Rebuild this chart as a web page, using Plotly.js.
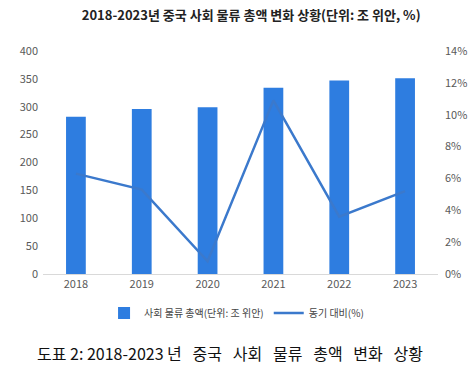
<!DOCTYPE html>
<html>
<head>
<meta charset="utf-8">
<script src="https://cdn.plot.ly/plotly-3.0.1.min.js"></script>
<style>
html,body{margin:0;padding:0;background:#fff;}
#chart{width:476px;height:367px;}
</style>
</head>
<body>
<div id="chart"></div>
<script>
const years = ['2018', '2019', '2020', '2021', '2022', '2023'];
const totalLogistics = [282, 296, 299, 334, 347, 351];
const yoyGrowth = [0.063, 0.053, 0.008, 0.109, 0.036, 0.052];
const barName = '사회 물류 총액(단위: 조 위안)';
const lineName = '동기 대비(%)';
const chartTitle = '2018-2023년 중국 사회 물류 총액 변화 상황(단위: 조 위안, %)';
const caption = '도표 2: 2018-2023 년   중국   사회   물류   총액   변화   상황';

const font = '"Noto Sans CJK KR", "Noto Sans", sans-serif';

const traces = [
  {
    type: 'bar', x: years, y: totalLogistics, name: barName,
    marker: {color: '#2E7DE0'}, yaxis: 'y', hoverinfo: 'skip'
  },
  {
    type: 'scatter', mode: 'lines', x: years, y: yoyGrowth, name: lineName,
    line: {color: '#3B79CC', width: 2.5}, yaxis: 'y2', hoverinfo: 'skip'
  }
];

const layout = {
  width: 476, height: 367,
  margin: {l: 43, r: 38, t: 51, b: 93},
  paper_bgcolor: '#fff', plot_bgcolor: '#fff',
  font: {family: font, color: '#595959', size: 11},
  bargap: 0.7,
  showlegend: true,
  title: {
    text: chartTitle, x: 0.527, xanchor: 'center', xref: 'paper',
    y: 1 - 15/367, yref: 'container', yanchor: 'middle',
    font: {family: font, size: 13, color: '#222', weight: 600}
  },
  xaxis: {
    type: 'category', showgrid: false, showline: true, linecolor: '#d9d9d9', linewidth: 1,
    ticks: '', tickfont: {size: 11, color: '#595959'}, fixedrange: true
  },
  yaxis: {
    range: [0, 400], dtick: 50, showgrid: false, zeroline: false, showline: false,
    ticks: '', tickfont: {size: 11, color: '#595959'}, ticklabelstandoff: 4
  },
  yaxis2: {
    overlaying: 'y', side: 'right', range: [0, 0.14], dtick: 0.02, tickformat: '.0%',
    showgrid: false, zeroline: false, showline: false, ticks: '',
    tickfont: {size: 11, color: '#595959'}, ticklabelstandoff: 6
  },
  legend: {
    orientation: 'h', x: 0.49, xanchor: 'center', y: -0.175, yanchor: 'middle',
    font: {size: 10, color: '#444'}, itemwidth: 30, traceorder: 'normal'
  },
  annotations: [{
    text: caption, xref: 'paper', yref: 'paper', x: 0.473, y: -0.354,
    xanchor: 'center', yanchor: 'middle', showarrow: false,
    font: {family: font, size: 16, color: '#111'}
  }]
};

Plotly.newPlot('chart', traces, layout, {staticPlot: true, displayModeBar: false});
</script>
</body>
</html>
